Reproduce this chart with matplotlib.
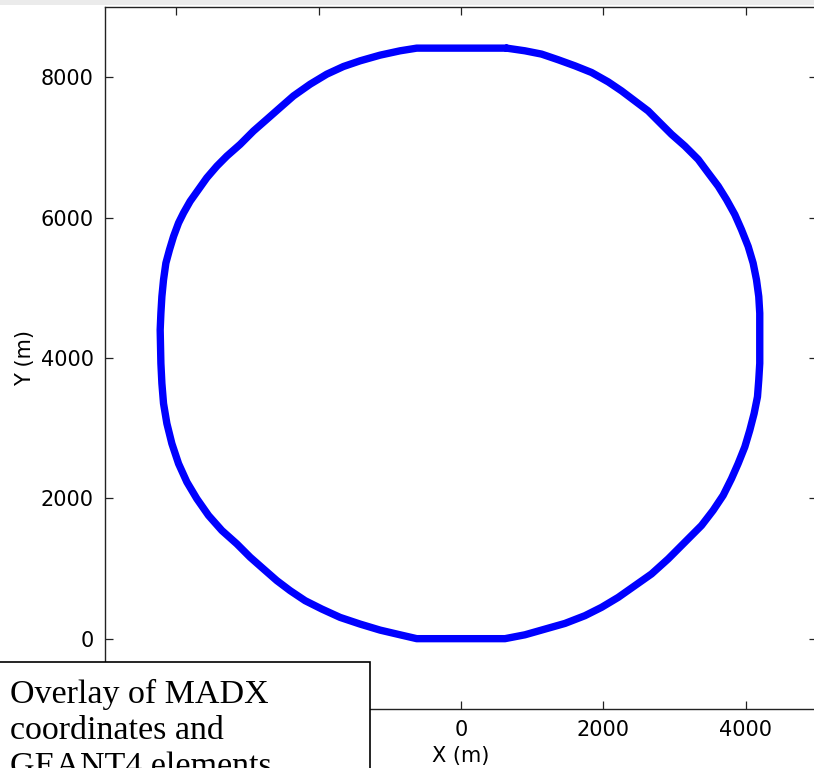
import matplotlib
matplotlib.use("Agg")
import matplotlib.pyplot as plt
from matplotlib.patches import Rectangle

# Ring outline (metres), counter-clockwise from the top
x_m = [641, -622, -856, -1137, -1418, -1652, -1885, -2119, -2353, -2540,
       -2727, -2915, -3102, -3289, -3429, -3570, -3687, -3804, -3897, -3967,
       -4037, -4094, -4145, -4178, -4201, -4215, -4225, -4215,
       -4201, -4178, -4131, -4061, -3967, -3850, -3710, -3546, -3359, -3148,
       -2961, -2774, -2587, -2400, -2189, -1955, -1698, -1418, -1137, -856,
       -622, 618,
       898, 1179, 1460, 1740, 1974, 2208, 2442, 2676, 2910, 3144,
       3378, 3541, 3682, 3799, 3892, 3986, 4056, 4117, 4164, 4182, 4196,
       4196,
       4182, 4150, 4103, 4033, 3939, 3846, 3729, 3612, 3471, 3331,
       3144, 2957, 2793, 2629, 2442, 2255, 2068, 1834, 1600, 1366,
       1132, 898, 641]
y_m = [8414, 8414, 8376, 8314, 8233, 8152, 8043, 7900, 7733, 7567,
       7400, 7233, 7043, 6876, 6733, 6567, 6400, 6233, 6067, 5924,
       5733, 5543, 5352, 5114, 4876, 4638, 4400, 3924,
       3638, 3352, 3067, 2781, 2495, 2233, 1995, 1757, 1543, 1352,
       1162, 995, 829, 686, 543, 424, 305, 210, 124, 57,
       2, 2,
       57, 138, 219, 329, 448, 590, 757, 924, 1138, 1376,
       1614, 1829, 2043, 2281, 2495, 2733, 2971, 3210, 3448, 3686, 3924,
       4638,
       4876, 5114, 5352, 5590, 5829, 6043, 6257, 6448, 6638, 6829,
       7019, 7186, 7352, 7519, 7662, 7805, 7933, 8067, 8162, 8248,
       8329, 8376, 8414]

x_ticks = [-4000, -2000, 0, 2000, 4000]
x_tick_labels = ["", "", "0", "2000", "4000"]   # first two hidden under the caption box
y_ticks = [0, 2000, 4000, 6000, 8000]
x_label = "X (m)"
y_label = "Y (m)"
caption_lines = ["Overlay of MADX", "coordinates and", "GEANT4 elements"]

W, H = 814, 768
fig = plt.figure(figsize=(W / 100, H / 100), dpi=100)
fig.patch.set_facecolor("white")

# light grey band at the very top (screenshot artefact)
fig.patches.append(Rectangle((0, 1 - 5 / H), 1, 5 / H, transform=fig.transFigure,
                             facecolor="#ebebeb", edgecolor="none", zorder=0))

ax = fig.add_axes([105 / W, 1 - 709 / H, 712 / W, 702 / H])
ax.plot(x_m, y_m, color="#0000ff", linewidth=5.3, solid_joinstyle="round",
        solid_capstyle="round")
ax.set_xlim(-5000, 5000)
ax.set_ylim(-1000, 9000)
ax.set_xticks(x_ticks)
ax.set_xticklabels(x_tick_labels)
ax.set_yticks(y_ticks)
ax.tick_params(direction="in", length=5.5, width=0.9, top=True, right=True,
               labelsize=15, pad=8, color="#222222")
for s in ax.spines.values():
    s.set_linewidth(1.0)
    s.set_color("#222222")
ax.set_xlabel(x_label, fontsize=15, labelpad=4)
ax.set_ylabel(y_label, fontsize=15, labelpad=4)

# caption box overlapping the lower-left corner
fig.patches.append(Rectangle((-1 / W, -0.1), 371 / W, (H - 662) / H + 0.1,
                             transform=fig.transFigure, facecolor="white",
                             edgecolor="black", linewidth=1.2, zorder=10))
for i, line in enumerate(caption_lines):
    fig.text(10 / W, 1 - (703 + 36 * i) / H, line, fontsize=24.5,
             family="Liberation Serif", va="baseline", ha="left", zorder=11)

fig.savefig("out.png", dpi=100)
